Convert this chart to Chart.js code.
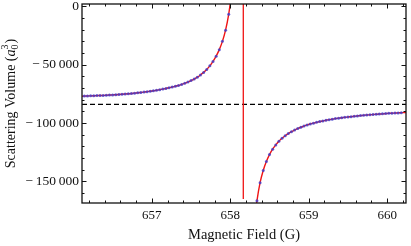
<!DOCTYPE html>
<html>
<head>
<meta charset="utf-8">
<script src="https://cdn.jsdelivr.net/npm/chart.js@4/dist/chart.umd.min.js"></script>
<style>
  html, body { margin: 0; padding: 0; background: #fff; }
  canvas { display: block; }
</style>
</head>
<body>
<canvas id="myChart" width="411" height="246"></canvas>
<script>
// field (G) and scattering volume (a0^3), below the resonance
const fieldLeft = [656.14, 656.18, 656.22, 656.26, 656.30, 656.34, 656.38, 656.42, 656.46, 656.50,
  656.54, 656.58, 656.62, 656.66, 656.70, 656.74, 656.78, 656.82, 656.86, 656.90,
  656.94, 656.98, 657.02, 657.06, 657.10, 657.14, 657.18, 657.22, 657.26, 657.30,
  657.34, 657.38, 657.42, 657.46, 657.50, 657.54, 657.58, 657.62, 657.66, 657.70,
  657.74, 657.78, 657.82, 657.86, 657.90, 657.94, 657.98];
const volumeLeft = [-76900, -76800, -76700, -76600, -76500, -76400, -76300, -76200, -76000, -75900,
  -75700, -75500, -75300, -75100, -74900, -74700, -74400, -74100, -73800, -73500,
  -73100, -72700, -72300, -71900, -71400, -70900, -70400, -69800, -69100, -68500,
  -67800, -66900, -65900, -64900, -63600, -62300, -60700, -58800, -56600, -54100,
  -51000, -47200, -42700, -37100, -30000, -20400, -6800];

// above the resonance
const fieldRight = [658.34, 658.38, 658.42, 658.46, 658.50, 658.54, 658.58, 658.62, 658.66, 658.70,
  658.74, 658.78, 658.82, 658.86, 658.90, 658.94, 658.98, 659.02, 659.06, 659.10,
  659.14, 659.18, 659.22, 659.26, 659.30, 659.34, 659.38, 659.42, 659.46, 659.50,
  659.54, 659.58, 659.62, 659.66, 659.70, 659.74, 659.78, 659.82, 659.86, 659.90,
  659.94, 659.98, 660.02, 660.06, 660.10, 660.14, 660.18];
const volumeRight = [-166600, -151100, -140600, -132900, -127000, -122400, -118700, -115600, -113100, -110900,
  -109000, -107400, -106000, -104700, -103600, -102600, -101600, -100800, -100100, -99400,
  -98700, -98200, -97600, -97100, -96700, -96200, -95800, -95500, -95100, -94800,
  -94500, -94200, -93900, -93600, -93400, -93100, -92900, -92700, -92500, -92300,
  -92100, -91900, -91700, -91600, -91400, -91300, -91100];

// fit curve continues past the first/last points
const curveLeftEnds = [[656.11, -77000], [658.00, 2500]];
const curveRightEnds = [[658.32, -177300], [660.24, -91000]];

const resonanceField = 658.166;
const resonanceSpan = [2000, -165000];
const backgroundVolume = -84000;

const xTicks = [657, 658, 659, 660];
const xTickLabels = ['657', '658', '659', '660'];
const yTicks = [0, -50000, -100000, -150000];
const yTickLabels = ['0', '\u2212\u200950\u2009000', '\u2212\u2009100\u2009000', '\u2212\u2009150\u2009000'];

const xMin = 656.11, xMax = 660.24;
const yMin = -168500, yMax = 2000;

const serif = 'Liberation Serif';

const pts = (xs, ys) => xs.map((x, i) => ({x: x, y: ys[i]}));
const pair = p => ({x: p[0], y: p[1]});

const curveLeft = [pair(curveLeftEnds[0])].concat(pts(fieldLeft, volumeLeft), [pair(curveLeftEnds[1])]);
const curveRight = [pair(curveRightEnds[0])].concat(pts(fieldRight, volumeRight), [pair(curveRightEnds[1])]);

// frame with inward ticks on all four sides, like the original
const frame = {
  id: 'frame',
  afterDatasetsDraw(chart) {
    const {ctx, chartArea: a, scales: {x, y}} = chart;
    ctx.save();
    ctx.strokeStyle = '#111';
    ctx.lineWidth = 1;
    ctx.beginPath();
    for (let v = 656.2; v < xMax; v += 0.2) {
      const major = Math.abs(v - Math.round(v)) < 0.01;
      const len = major ? 4.5 : 2.5;
      const px = Math.round(x.getPixelForValue(v)) + 0.5;
      ctx.moveTo(px, a.bottom); ctx.lineTo(px, a.bottom - len);
      ctx.moveTo(px, a.top); ctx.lineTo(px, a.top + len);
    }
    for (let v = 0; v > yMin; v -= 10000) {
      const major = v % 50000 === 0;
      const len = major ? 4.5 : 2.5;
      const py = Math.round(y.getPixelForValue(v)) + 0.5;
      ctx.moveTo(a.left, py); ctx.lineTo(a.left + len, py);
      ctx.moveTo(a.right, py); ctx.lineTo(a.right - len, py);
    }
    ctx.stroke();
    ctx.lineWidth = 1.3;
    ctx.strokeRect(a.left, a.top, a.right - a.left, a.bottom - a.top);
    ctx.restore();
  },
  afterDraw(chart) {
    // y title with italic a, subscript 0 and superscript 3
    const {ctx, chartArea: a} = chart;
    const big = '14px "' + serif + '"';
    const ital = 'italic 14px "' + serif + '"';
    const small = '10px "' + serif + '"';
    ctx.save();
    ctx.fillStyle = '#111';
    ctx.textBaseline = 'alphabetic';
    ctx.font = big;
    const w1 = ctx.measureText('Scattering Volume (').width;
    ctx.font = ital;
    const w2 = ctx.measureText('a').width;
    ctx.font = small;
    const w3 = ctx.measureText('0').width;
    ctx.font = big;
    const w4 = ctx.measureText(')').width;
    const total = w1 + w2 + w3 + 1 + w4;
    ctx.translate(15, (a.top + a.bottom) / 2);
    ctx.rotate(-Math.PI / 2);
    let cx = -total / 2;
    ctx.font = big;
    ctx.fillText('Scattering Volume (', cx, 0);
    cx += w1;
    ctx.font = ital;
    ctx.fillText('a', cx, 0);
    cx += w2;
    ctx.font = small;
    ctx.fillText('0', cx, 3);
    ctx.fillText('3', cx, -7);
    cx += w3 + 1;
    ctx.font = big;
    ctx.fillText(')', cx, 0);
    ctx.restore();
  }
};

const ctx = document.getElementById('myChart').getContext('2d');
const myChart = new Chart(ctx, {
  type: 'scatter',
  data: {
    datasets: [
      {
        data: pts(fieldLeft, volumeLeft).concat(pts(fieldRight, volumeRight)),
        backgroundColor: 'rgba(60, 60, 205, 0.8)',
        borderWidth: 0,
        pointRadius: 1.5,
        order: 0
      },
      {
        data: curveLeft,
        showLine: true,
        borderColor: 'rgb(240, 20, 20)',
        borderWidth: 1.4,
        pointRadius: 0,
        cubicInterpolationMode: 'monotone',
        order: 1
      },
      {
        data: curveRight,
        showLine: true,
        borderColor: 'rgb(240, 20, 20)',
        borderWidth: 1.4,
        pointRadius: 0,
        cubicInterpolationMode: 'monotone',
        order: 1
      },
      {
        data: [{x: resonanceField, y: resonanceSpan[0]}, {x: resonanceField, y: resonanceSpan[1]}],
        showLine: true,
        borderColor: 'rgb(240, 20, 20)',
        borderWidth: 1.3,
        pointRadius: 0,
        order: 1
      },
      {
        data: [{x: xMin, y: backgroundVolume}, {x: xMax, y: backgroundVolume}],
        showLine: true,
        borderColor: '#000',
        borderWidth: 1.2,
        borderDash: [5, 3],
        pointRadius: 0,
        order: 2
      }
    ]
  },
  options: {
    responsive: false,
    animation: false,
    layout: {padding: {top: 2, right: 5, left: 0, bottom: 0}},
    plugins: {
      legend: {display: false},
      tooltip: {enabled: false}
    },
    scales: {
      x: {
        type: 'linear',
        min: xMin,
        max: xMax,
        grid: {display: false, drawTicks: false},
        border: {display: false},
        afterBuildTicks: s => { s.ticks = xTicks.map(v => ({value: v})); },
        afterFit: s => { s.height = 43; s.paddingLeft = 0; s.paddingRight = 0; },
        ticks: {
          padding: 5,
          maxRotation: 0,
          color: '#111',
          font: {family: serif, size: 13},
          callback: v => xTickLabels[xTicks.indexOf(v)]
        },
        title: {
          display: true,
          text: 'Magnetic Field (G)',
          color: '#111',
          font: {family: serif, size: 14.5},
          padding: {top: 0, bottom: 2}
        }
      },
      y: {
        type: 'linear',
        min: yMin,
        max: yMax,
        grid: {display: false, drawTicks: false},
        border: {display: false},
        afterBuildTicks: s => { s.ticks = yTicks.map(v => ({value: v})); },
        afterFit: s => { s.width = 82; s.paddingTop = 0; s.paddingBottom = 0; },
        ticks: {
          padding: 3,
          color: '#111',
          font: {family: serif, size: 13.5},
          callback: v => yTickLabels[yTicks.indexOf(v)]
        }
      }
    }
  },
  plugins: [frame]
});
</script>
</body>
</html>
